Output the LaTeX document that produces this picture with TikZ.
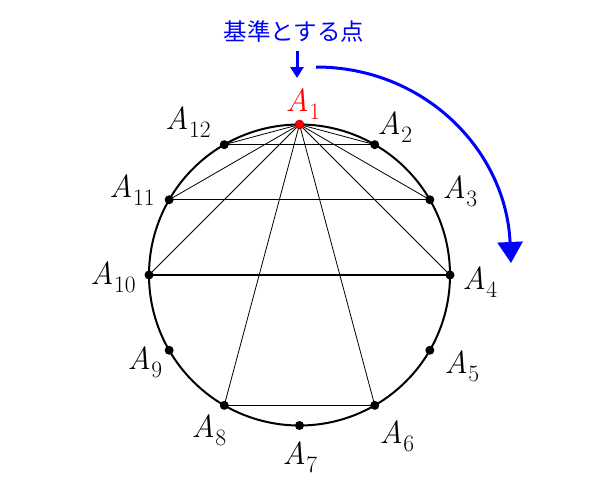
\documentclass[tikz,border=0pt]{standalone}
\usepackage{fontspec}
\newfontfamily\cjk{Noto Sans CJK JP}
\newcommand{\lbl}[1]{{\itshape A}\kern0.5pt\raisebox{-8pt}{\fontsize{23.5}{25}\selectfont #1}}
\usetikzlibrary{calc,arrows.meta}
\begin{document}
\begin{tikzpicture}[x=1pt,y=-1pt,
  dot/.style={circle,fill=black,inner sep=0pt,minimum size=9pt},
  lab/.style={inner sep=0pt,font=\fontsize{32}{34}\selectfont},
  fan/.style={line width=0.8pt},
  chord/.style={line width=1.2pt},
  bluearrow/.style={draw=blue,line width=3pt}]
\useasboundingbox (0,0) rectangle (600,480);
\coordinate (O) at (299.5,275);
\draw[line width=2pt] (O) circle[radius=150.5pt];
\foreach \k in {1,...,12}{
  \coordinate (A\k) at ($(O)+({90-30*(\k-1)}:150.5pt)$);
}
% fan from A1
\foreach \k in {2,3,4,6,8,10,11,12}{
  \draw[fan] (A1) -- (A\k);
}
\draw[chord] (A12) -- (A2);
\draw[chord] (A11) -- (A3);
\draw[chord] (A10) -- (A4);
\draw[chord] (A8) -- (A6);
\foreach \k in {2,...,12}{
  \node[dot] (P\k) at (A\k) {};
}
\node[dot,fill=red,draw=red!70!black,line width=0.6pt] (P1) at (A1) {};
% labels
\node[lab,text=red] (L1) at (303,104.5) {\lbl{1}};
\node[lab] (L2) at (395,127) {\lbl{2}};
\node[lab] (L3) at (460,191) {\lbl{3}};
\node[lab] (L4) at (480,282) {\lbl{4}};
\node[lab] (L5) at (462,366) {\lbl{5}};
\node[lab] (L6) at (397,436) {\lbl{6}};
\node[lab] (L7) at (300,457) {\lbl{7}};
\node[lab] (L8) at (209,430) {\lbl{8}};
\node[lab] (L9) at (145,362) {\lbl{9}};
\node[lab] (L10) at (113,277) {\lbl{10}};
\node[lab] (L11) at (132,190) {\lbl{11}};
\node[lab] (L12) at (188,122) {\lbl{12}};
% title
\node[text=blue,inner sep=0pt,font=\cjk\fontsize{23.5}{25}\selectfont] (T) at (294,32) {基準とする点};
\coordinate (s1) at (297,51);
\coordinate (e1) at (297,78);
\draw[bluearrow,-{Triangle[length=11pt,width=13pt]}] (s1) -- (e1);
\coordinate (s2) at (316,67);
\coordinate (e2) at (511,263);
\draw[bluearrow,-{Triangle[length=21pt,width=25pt]}] (s2) .. controls (424,67) and (506,150) .. (e2);
\end{tikzpicture}
\end{document}
